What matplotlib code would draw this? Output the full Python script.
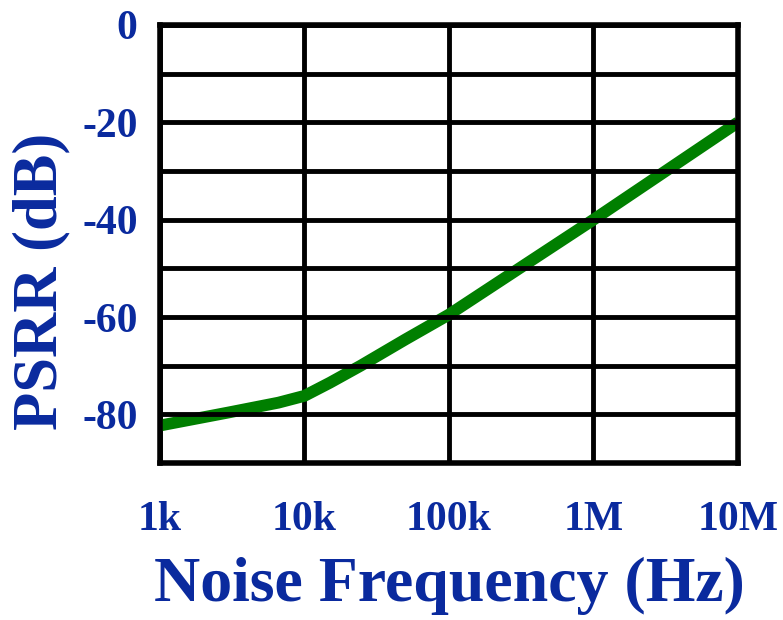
import numpy as np
import matplotlib
matplotlib.use('Agg')
import matplotlib.pyplot as plt

# PSRR vs noise frequency
freq = [1e3, 3e3, 6.6e3, 1e4, 1.5e4, 2.45e4, 5e4, 1e5, 1e6, 1e7]
psrr = [-82.3, -79.6, -77.6, -76.2, -73.5, -70.0, -64.6, -59.5, -40.0, -20.0]

xticks = [1e3, 1e4, 1e5, 1e6, 1e7]
xtick_labels = ['1k', '10k', '100k', '1M', '10M']
yticks = [0, -20, -40, -60, -80]
ytick_labels = ['0', '-20', '-40', '-60', '-80']
ygrid = [0, -10, -20, -30, -40, -50, -60, -70, -80, -90]

blue = '#0a2a9e'
plt.rcParams['font.family'] = ['Liberation Serif', 'DejaVu Serif']
plt.rcParams['font.weight'] = 'bold'

fig = plt.figure(figsize=(7.83, 6.2), dpi=100)
ax = fig.add_axes([0.2043, 0.2532, 0.7382, 0.7065])

# vertical grid under the curve, horizontal grid over it (as in the original)
for x in xticks:
    ax.axvline(x, color='black', lw=3.5, zorder=1)
ax.plot(freq, psrr, color='#007f00', lw=8.5, solid_capstyle='butt', zorder=2)
for y in ygrid:
    ax.axhline(y, color='black', lw=3.5, zorder=3)

ax.set_xscale('log')
ax.set_xlim(1e3, 1e7)
ax.set_ylim(-90, 0)
ax.set_xticks(xticks)
ax.set_xticklabels(xtick_labels)
ax.minorticks_off()
ax.set_yticks(yticks)
ax.set_yticklabels(ytick_labels)
ax.tick_params(length=0, labelcolor=blue, labelsize=30)
ax.tick_params(axis='x', pad=27)
ax.tick_params(axis='y', pad=16)
for s in ax.spines.values():
    s.set_linewidth(4)
    s.set_zorder(4)

ax.set_xlabel('Noise Frequency (Hz)', color=blue, fontsize=46, fontweight='bold', labelpad=13)
ax.set_ylabel('PSRR (dB)', color=blue, fontsize=45, fontweight='bold')
ax.yaxis.set_label_coords(-0.155, 0.415)

fig.savefig('out.png', dpi=100)
